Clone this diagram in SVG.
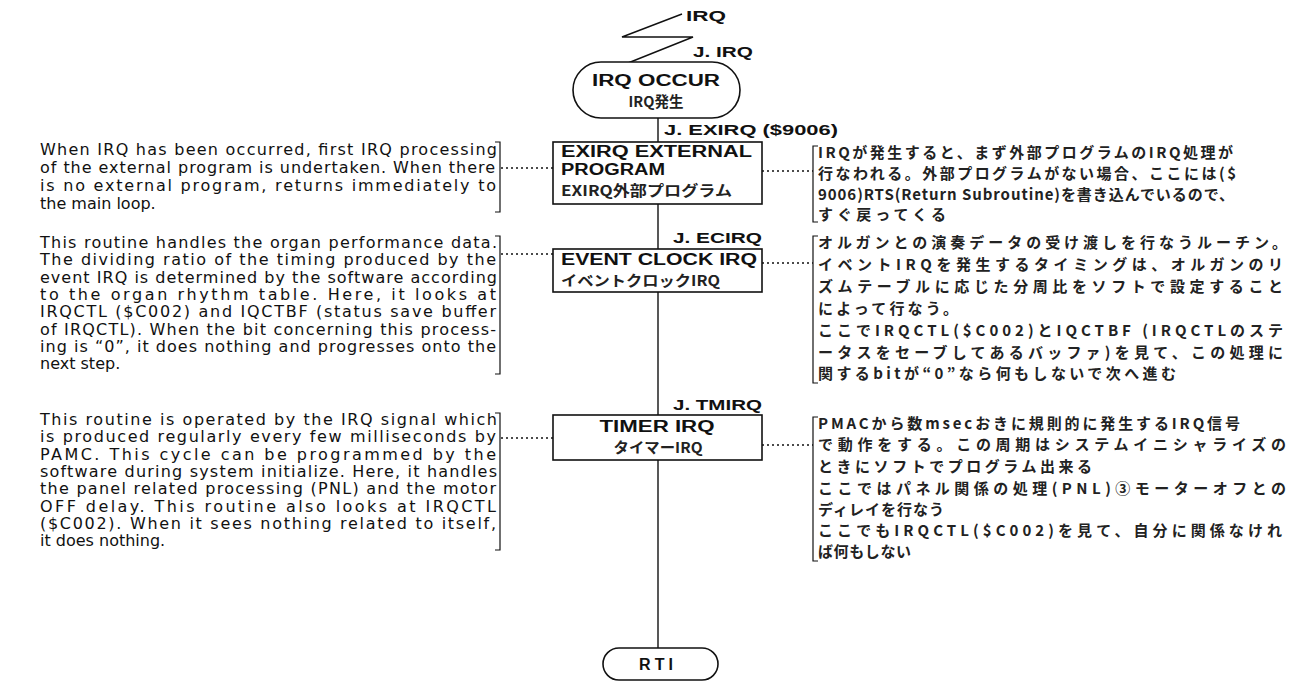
<svg xmlns="http://www.w3.org/2000/svg" width="1291" height="682" viewBox="0 0 1291 682">
<style>
.bg{fill:#fff}
.ln{stroke:#111;stroke-width:1.4;fill:none}
.dot{stroke:#111;stroke-width:1.4;fill:none;stroke-dasharray:2 3}
.box{stroke:#111;stroke-width:1.6;fill:#fff}
.br{stroke:#111;stroke-width:1.2;fill:none}
.en{font-family:"DejaVu Sans","Liberation Sans",sans-serif;font-size:16px;fill:#111}
.jp{font-family:"Noto Sans CJK JP","Noto Sans CJK SC",sans-serif;font-size:15px;font-weight:bold;fill:#222}
.lb{font-family:"Liberation Sans","DejaVu Sans",sans-serif;font-size:15px;font-weight:bold;fill:#111}
.bt{font-family:"Liberation Sans","DejaVu Sans",sans-serif;font-size:16px;font-weight:bold;fill:#111}
.bj{font-family:"Noto Sans CJK JP","Noto Sans CJK SC",sans-serif;font-size:14.5px;font-weight:bold;fill:#222}
</style>
<rect class="bg" x="0" y="0" width="1291" height="682"/>

<g id="connectors">
  <polyline class="ln" points="682,14 622,37 693,37 628,63"/>
  <line class="ln" x1="658" y1="118" x2="658" y2="142"/>
  <line class="ln" x1="658" y1="204" x2="658" y2="249"/>
  <line class="ln" x1="658" y1="292" x2="658" y2="415"/>
  <line class="ln" x1="658" y1="460" x2="658" y2="648"/>
  <line class="dot" x1="501" y1="168" x2="553" y2="168"/>
  <line class="dot" x1="762" y1="171" x2="813" y2="171"/>
  <line class="dot" x1="501" y1="254" x2="553" y2="254"/>
  <line class="dot" x1="762" y1="263" x2="813" y2="263"/>
  <line class="dot" x1="501" y1="438" x2="553" y2="438"/>
  <line class="dot" x1="762" y1="445" x2="813" y2="445"/>
  <text class="lb" x="686" y="21" textLength="40" lengthAdjust="spacingAndGlyphs">IRQ</text>
  <text class="lb" x="693" y="57" textLength="60" lengthAdjust="spacingAndGlyphs">J. IRQ</text>
  <text class="lb" x="664" y="135" textLength="174" lengthAdjust="spacingAndGlyphs">J. EXIRQ ($9006)</text>
  <text class="lb" x="673" y="243" textLength="89" lengthAdjust="spacingAndGlyphs">J. ECIRQ</text>
  <text class="lb" x="673" y="410" textLength="89" lengthAdjust="spacingAndGlyphs">J. TMIRQ</text>
</g>

<g id="irq-occur">
  <rect class="box" x="573" y="62" width="167" height="56" rx="28" ry="28"/>
  <text class="bt" x="656" y="86" text-anchor="middle" textLength="128" lengthAdjust="spacingAndGlyphs">IRQ OCCUR</text>
  <text class="bj" x="656" y="107" text-anchor="middle">IRQ発生</text>
</g>

<g id="exirq">
  <rect class="box" x="553" y="142" width="209" height="62"/>
  <text class="bt" x="561" y="157" textLength="191" lengthAdjust="spacingAndGlyphs">EXIRQ EXTERNAL</text>
  <text class="bt" x="561" y="175" textLength="104" lengthAdjust="spacingAndGlyphs">PROGRAM</text>
  <text class="bj" x="561" y="196" textLength="171" lengthAdjust="spacingAndGlyphs">EXIRQ外部プログラム</text>
</g>

<g id="event-clock">
  <rect class="box" x="553" y="249" width="209" height="43"/>
  <text class="bt" x="561" y="265" textLength="196" lengthAdjust="spacingAndGlyphs">EVENT CLOCK IRQ</text>
  <text class="bj" x="561" y="286" textLength="159" lengthAdjust="spacingAndGlyphs">イベントクロックIRQ</text>
</g>

<g id="timer">
  <rect class="box" x="553" y="415" width="209" height="45"/>
  <text class="bt" x="657" y="432" text-anchor="middle" textLength="115" lengthAdjust="spacingAndGlyphs">TIMER IRQ</text>
  <text class="bj" x="658" y="453" text-anchor="middle" textLength="89" lengthAdjust="spacingAndGlyphs">タイマーIRQ</text>
</g>

<g id="rti">
  <rect class="box" x="603" y="648" width="115" height="32" rx="16" ry="16"/>
  <text class="bt" x="658" y="670" text-anchor="middle" letter-spacing="4">RTI</text>
</g>

<g id="note-exirq-en">
  <path class="br" d="M495,142 H500 V212 H495"/>
  <text class="en" x="40" y="155" textLength="457" lengthAdjust="spacing">When IRQ has been occurred, first IRQ processing</text>
  <text class="en" x="40" y="173" textLength="455" lengthAdjust="spacing">of the external program is undertaken. When there</text>
  <text class="en" x="40" y="191" textLength="456" lengthAdjust="spacing">is no external program, returns immediately to</text>
  <text class="en" x="40" y="209">the main loop.</text>
</g>

<g id="note-exirq-jp">
  <path class="br" d="M818,146 H813 V222 H818"/>
  <text class="jp" x="818" y="158" textLength="415" lengthAdjust="spacing">IRQが発生すると、まず外部プログラムのIRQ処理が</text>
  <text class="jp" x="818" y="179" textLength="418" lengthAdjust="spacing">行なわれる。外部プログラムがない場合、ここには($</text>
  <text class="jp" x="818" y="200" textLength="416" lengthAdjust="spacing">9006)RTS(Return Subroutine)を書き込んでいるので、</text>
  <text class="jp" x="818" y="220" textLength="128" lengthAdjust="spacing">すぐ戻ってくる</text>
</g>

<g id="note-event-en">
  <path class="br" d="M495,236 H500 V374 H495"/>
  <text class="en" x="40" y="248" textLength="457" lengthAdjust="spacing">This routine handles the organ performance data.</text>
  <text class="en" x="40" y="265.3" textLength="456" lengthAdjust="spacing">The dividing ratio of the timing produced by the</text>
  <text class="en" x="40" y="282.6" textLength="457" lengthAdjust="spacing">event IRQ is determined by the software according</text>
  <text class="en" x="40" y="300" textLength="456" lengthAdjust="spacing">to the organ rhythm table. Here, it looks at</text>
  <text class="en" x="40" y="317.3" textLength="456" lengthAdjust="spacing">IRQCTL ($C002) and IQCTBF (status save buffer</text>
  <text class="en" x="40" y="334.6" textLength="456" lengthAdjust="spacing">of IRQCTL). When the bit concerning this process-</text>
  <text class="en" x="40" y="352" textLength="456" lengthAdjust="spacing">ing is “0”, it does nothing and progresses onto the</text>
  <text class="en" x="40" y="369">next step.</text>
</g>

<g id="note-event-jp">
  <path class="br" d="M818,236 H813 V383 H818"/>
  <text class="jp" x="818" y="248" textLength="469" lengthAdjust="spacing">オルガンとの演奏データの受け渡しを行なうルーチン。</text>
  <text class="jp" x="818" y="270" textLength="465" lengthAdjust="spacing">イベントIRQを発生するタイミングは、オルガンのリ</text>
  <text class="jp" x="818" y="292" textLength="465" lengthAdjust="spacing">ズムテーブルに応じた分周比をソフトで設定すること</text>
  <text class="jp" x="818" y="314" textLength="140" lengthAdjust="spacing">によって行なう。</text>
  <text class="jp" x="818" y="336" textLength="465" lengthAdjust="spacing">ここでIRQCTL($C002)とIQCTBF (IRQCTLのステ</text>
  <text class="jp" x="818" y="358" textLength="465" lengthAdjust="spacing">ータスをセーブしてあるバッファ)を見て、この処理に</text>
  <text class="jp" x="818" y="379" textLength="358" lengthAdjust="spacing">関するbitが“0”なら何もしないで次へ進む</text>
</g>

<g id="note-timer-en">
  <path class="br" d="M495,413 H500 V550 H495"/>
  <text class="en" x="40" y="425" textLength="457" lengthAdjust="spacing">This routine is operated by the IRQ signal which</text>
  <text class="en" x="40" y="442.3" textLength="456" lengthAdjust="spacing">is produced regularly every few milliseconds by</text>
  <text class="en" x="40" y="459.6" textLength="456" lengthAdjust="spacing">PAMC. This cycle can be programmed by the</text>
  <text class="en" x="40" y="477" textLength="457" lengthAdjust="spacing">software during system initialize. Here, it handles</text>
  <text class="en" x="40" y="494.3" textLength="456" lengthAdjust="spacing">the panel related processing (PNL) and the motor</text>
  <text class="en" x="40" y="511.6" textLength="456" lengthAdjust="spacing">OFF delay. This routine also looks at IRQCTL</text>
  <text class="en" x="40" y="529" textLength="456" lengthAdjust="spacing">($C002). When it sees nothing related to itself,</text>
  <text class="en" x="40" y="546">it does nothing.</text>
</g>

<g id="note-timer-jp">
  <path class="br" d="M818,417 H813 V561 H818"/>
  <text class="jp" x="818" y="429" textLength="422" lengthAdjust="spacing">PMACから数msecおきに規則的に発生するIRQ信号</text>
  <text class="jp" x="818" y="450" textLength="468" lengthAdjust="spacing">で動作をする。この周期はシステムイニシャライズの</text>
  <text class="jp" x="818" y="472" textLength="274" lengthAdjust="spacing">ときにソフトでプログラム出来る</text>
  <text class="jp" x="818" y="494" textLength="468" lengthAdjust="spacing">ここではパネル関係の処理(PNL)③モーターオフとの</text>
  <text class="jp" x="818" y="515" textLength="126" lengthAdjust="spacing">ディレイを行なう</text>
  <text class="jp" x="818" y="536" textLength="464" lengthAdjust="spacing">ここでもIRQCTL($C002)を見て、自分に関係なけれ</text>
  <text class="jp" x="818" y="557" textLength="93" lengthAdjust="spacing">ば何もしない</text>
</g>
</svg>
